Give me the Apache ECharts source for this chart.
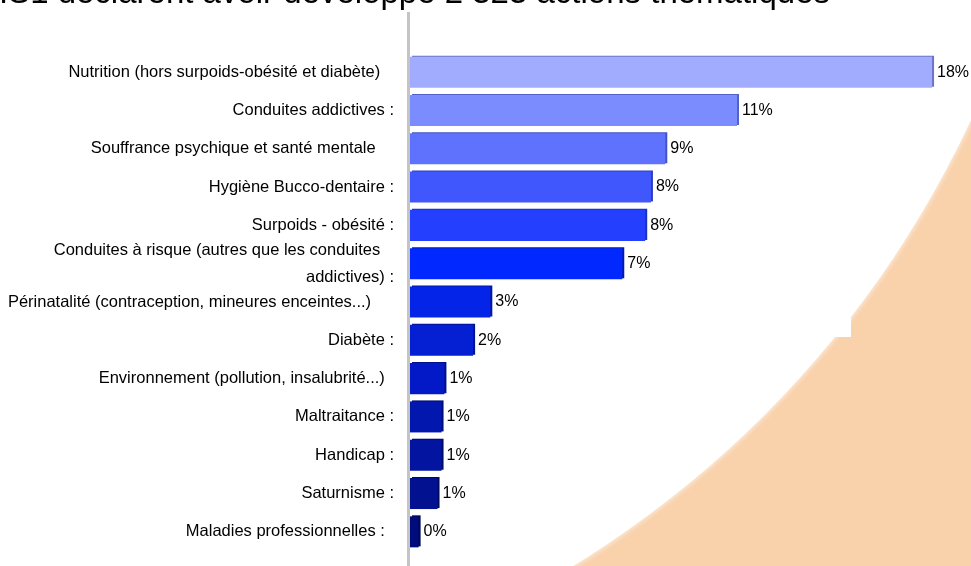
<!DOCTYPE html>
<html>
<head>
<meta charset="utf-8">
<script src="https://cdn.jsdelivr.net/npm/echarts@6/dist/echarts.min.js"></script>
<style>
  html, body { margin: 0; padding: 0; background: #F9D1AB; }
  #chart { width: 971px; height: 566px; }
</style>
</head>
<body>
<div id="chart"></div>
<script>
// Thèmes des actions déclarées (part des actions, en %)
const categories = [
  'Nutrition (hors surpoids-obésité et diabète)   ',
  'Conduites addictives :',
  'Souffrance psychique et santé mentale    ',
  'Hygiène Bucco-dentaire :',
  'Surpoids - obésité :',
  'Conduites à risque (autres que les conduites   \naddictives) :',
  'Périnatalité (contraception, mineures enceintes...)     ',
  'Diabète :',
  'Environnement (pollution, insalubrité...)  ',
  'Maltraitance :',
  'Handicap :',
  'Saturnisme :',
  'Maladies professionnelles :  '
];
const shares = [18.2, 11.4, 8.9, 8.4, 8.2, 7.4, 2.8, 2.2, 1.2, 1.1, 1.1, 0.96, 0.3];

const titleText = 'IS1 déclarent avoir développé 2 323 actions thématiques';

// Dégradé du bleu clair au bleu marine, avec une arête plus sombre par barre
const fillColors = ['#A2ACFE', '#7B8CFE', '#5F72FE', '#4157FE', '#2440FE', '#0128FE', '#0424E8',
                    '#0520D2', '#0319C8', '#0217AE', '#0214A0', '#011190', '#000C7C'];
const edgeColors = ['#6A74C8', '#5262C8', '#4252C8', '#2C3EC0', '#1A32C0', '#001AB0', '#0018A0',
                    '#001490', '#001088', '#000E78', '#000C6C', '#000A60', '#000850'];

const FONT = '"Liberation Sans", Arial, sans-serif';
const chart = echarts.init(document.getElementById('chart'));

// Le libellé sur deux lignes est légèrement remonté
const axisData = categories.map(c => c.includes('\n')
  ? { value: c, textStyle: { padding: [0, 0, 8, 0] } }
  : c);

chart.setOption({
  backgroundColor: '#F9D1AB',
  animation: false,
  graphic: [
    { type: 'circle', z: 0, silent: true,
      shape: { cx: 31, cy: -318, r: 1037 },
      style: { fill: '#FFFFFF', shadowColor: 'rgba(255,255,255,0.9)', shadowBlur: 6 } },
    { type: 'rect', z: 0, silent: true,
      shape: { x: 0, y: 0, width: 851, height: 337 },
      style: { fill: '#FFFFFF' } },
    { type: 'line', z: 1, silent: true,
      shape: { x1: 408.5, y1: 12, x2: 408.5, y2: 566 },
      style: { stroke: '#C4C4C4', lineWidth: 3 } },
    { type: 'text', z: 3, silent: true, right: 141, top: -23,
      style: { text: titleText, font: '33px ' + FONT, fill: '#000' } }
  ],
  grid: { left: 410, right: 16, top: 53, bottom: 15 },
  xAxis: { type: 'value', min: 0, max: 19, show: false },
  yAxis: {
    type: 'category',
    inverse: true,
    data: axisData,
    axisLine: { show: false },
    axisTick: { show: false },
    axisLabel: {
      margin: 16,
      color: '#000',
      fontFamily: FONT,
      fontSize: 16.5,
      lineHeight: 27
    }
  },
  series: [{
    type: 'bar',
    z: 2,
    barCategoryGap: '19%',
    data: shares.map((v, i) => ({
      value: v,
      itemStyle: {
        color: fillColors[i],
        shadowColor: edgeColors[i],
        shadowOffsetX: 2,
        shadowOffsetY: -1,
        shadowBlur: 0
      }
    })),
    label: {
      show: true,
      position: 'right',
      distance: 5,
      color: '#000',
      fontFamily: FONT,
      fontSize: 16,
      formatter: p => Math.round(p.value) + '%'
    }
  }]
});
</script>
</body>
</html>
